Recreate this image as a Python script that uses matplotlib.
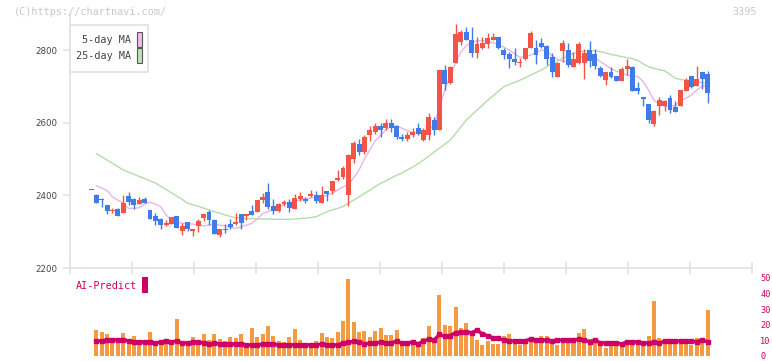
import numpy as np
import matplotlib.pyplot as plt

# 株価データ (ローソク足 116本, 最後が 11/14)
opens = [2414, 2401, 2391, 2373, 2357, 2362, 2352, 2398, 2391, 2377, 2390, 2360, 2343, 2334, 2318, 2321,
         2343, 2303, 2326, 2302, 2316, 2338, 2355, 2332, 2292, 2308, 2321, 2320, 2349, 2343, 2357, 2355,
         2387, 2409, 2371, 2357, 2377, 2382, 2363, 2391, 2390, 2398, 2400, 2380, 2412, 2413, 2442, 2450,
         2400, 2500, 2540, 2520, 2565, 2575, 2590, 2585, 2600, 2590, 2560, 2555, 2565, 2585, 2552, 2566,
         2607, 2580, 2745, 2708, 2765, 2823, 2850, 2827, 2791, 2805, 2818, 2829, 2837, 2800, 2789, 2774,
         2763, 2774, 2807, 2807, 2820, 2811, 2782, 2727, 2798, 2800, 2754, 2763, 2765, 2800, 2789, 2750,
         2717, 2739, 2728, 2715, 2747, 2754, 2695, 2670, 2651, 2596, 2647, 2647, 2667, 2644, 2646, 2687,
         2728, 2702, 2739, 2734]
highs = [2414, 2403, 2393, 2374, 2366, 2364, 2401, 2409, 2393, 2396, 2396, 2361, 2352, 2338, 2332, 2341,
         2344, 2323, 2327, 2307, 2335, 2350, 2360, 2334, 2308, 2321, 2334, 2352, 2350, 2350, 2373, 2388,
         2407, 2435, 2389, 2378, 2387, 2389, 2404, 2408, 2396, 2415, 2412, 2426, 2413, 2440, 2470, 2480,
         2515, 2550, 2555, 2565, 2590, 2600, 2600, 2610, 2610, 2595, 2570, 2575, 2585, 2600, 2585, 2626,
         2616, 2745, 2759, 2756, 2872, 2855, 2864, 2864, 2837, 2837, 2846, 2846, 2837, 2805, 2795, 2805,
         2777, 2807, 2853, 2829, 2832, 2813, 2791, 2766, 2829, 2820, 2795, 2823, 2802, 2826, 2802, 2756,
         2740, 2754, 2729, 2754, 2776, 2755, 2713, 2671, 2652, 2634, 2671, 2662, 2676, 2660, 2691, 2722,
         2729, 2756, 2740, 2742]
lows = [2414, 2378, 2369, 2349, 2352, 2343, 2351, 2374, 2362, 2376, 2378, 2335, 2318, 2308, 2317, 2320,
        2310, 2291, 2303, 2289, 2300, 2330, 2318, 2293, 2286, 2295, 2308, 2319, 2306, 2332, 2345, 2354,
        2378, 2362, 2349, 2354, 2371, 2355, 2362, 2385, 2378, 2395, 2378, 2379, 2385, 2404, 2440, 2445,
        2372, 2490, 2510, 2515, 2550, 2570, 2560, 2580, 2575, 2555, 2550, 2550, 2560, 2565, 2550, 2552,
        2566, 2579, 2690, 2706, 2764, 2814, 2828, 2782, 2777, 2804, 2807, 2828, 2802, 2774, 2750, 2759,
        2752, 2772, 2806, 2761, 2805, 2759, 2727, 2725, 2768, 2754, 2753, 2762, 2720, 2754, 2747, 2725,
        2704, 2722, 2714, 2714, 2731, 2687, 2679, 2646, 2600, 2591, 2621, 2633, 2627, 2629, 2645, 2686,
        2696, 2701, 2692, 2655]
closes = [2414, 2380, 2386, 2358, 2359, 2344, 2379, 2382, 2373, 2387, 2380, 2336, 2330, 2318, 2325, 2340,
          2311, 2316, 2308, 2306, 2329, 2349, 2332, 2294, 2307, 2304, 2314, 2327, 2323, 2349, 2346, 2387,
          2396, 2369, 2358, 2377, 2382, 2366, 2393, 2398, 2385, 2404, 2385, 2401, 2404, 2439, 2448, 2475,
          2510, 2545, 2520, 2560, 2580, 2590, 2580, 2600, 2585, 2560, 2555, 2565, 2575, 2570, 2580, 2616,
          2580, 2745, 2706, 2754, 2844, 2850, 2829, 2791, 2818, 2820, 2832, 2837, 2807, 2786, 2774, 2768,
          2768, 2805, 2848, 2786, 2809, 2774, 2740, 2765, 2820, 2759, 2774, 2816, 2791, 2771, 2756, 2728,
          2739, 2725, 2715, 2747, 2756, 2688, 2688, 2666, 2607, 2633, 2662, 2660, 2635, 2630, 2690, 2717,
          2697, 2720, 2720, 2681]

# 移動平均 (2本目から)
ma5 = [2426, 2420, 2413, 2396, 2387, 2378, 2364, 2364, 2366, 2376, 2381, 2376, 2369, 2346, 2332,
       2327, 2323, 2322, 2321, 2318, 2316, 2318, 2321, 2318, 2316, 2312, 2309, 2314, 2318, 2323,
       2335, 2350, 2355, 2362, 2368, 2374, 2380, 2384, 2388, 2390, 2393, 2395, 2396, 2400, 2406,
       2415, 2423, 2431, 2448, 2470, 2500, 2525, 2550, 2565, 2580, 2590, 2590, 2585, 2578, 2572,
       2575, 2578, 2580, 2595, 2640, 2690, 2730, 2765, 2795, 2812, 2822, 2825, 2826, 2824, 2820,
       2815, 2808, 2800, 2790, 2780, 2782, 2786, 2793, 2800, 2797, 2785, 2775, 2768, 2770, 2772,
       2778, 2785, 2786, 2778, 2768, 2759, 2748, 2742, 2737, 2731, 2729, 2727, 2713, 2690, 2662,
       2650, 2646, 2644, 2648, 2660, 2668, 2676, 2690, 2700, 2703]
ma25 = [2515, 2506, 2497, 2488, 2479, 2470, 2464, 2458, 2452, 2446, 2440, 2434, 2425, 2416, 2407,
        2398, 2389, 2379, 2374, 2370, 2365, 2360, 2355, 2351, 2346, 2342, 2338, 2337, 2336, 2336,
        2335, 2335, 2335, 2334, 2334, 2334, 2334, 2335, 2336, 2337, 2339, 2341, 2348, 2355, 2360,
        2364, 2369, 2378, 2387, 2396, 2405, 2414, 2424, 2433, 2440, 2448, 2455, 2462, 2470, 2478,
        2487, 2497, 2508, 2519, 2530, 2541, 2552, 2570, 2589, 2607, 2621, 2635, 2648, 2662, 2674,
        2687, 2699, 2705, 2711, 2717, 2724, 2731, 2738, 2745, 2754, 2763, 2770, 2777, 2784, 2791,
        2794, 2797, 2798, 2798, 2796, 2792, 2788, 2785, 2782, 2779, 2776, 2771, 2762, 2754, 2750,
        2746, 2743, 2733, 2722, 2719, 2717, 2715, 2713, 2710, 2708]

# 出来高 (2本目から) と AI-Predict
volume = [16.7, 15.4, 14.2, 10.4, 11.7, 14.8, 10.4, 13.1, 9, 9, 15.4, 8.3, 10.4, 10.4, 6.9,
          23.6, 8.3, 8.3, 12.3, 9, 14.2, 10.4, 14.2, 10.8, 9.8, 12.3, 11.7, 14.2, 6.9, 17.9,
          12.3, 14.2, 19.2, 12.9, 9.6, 9, 12.3, 17.3, 10.4, 6.9, 8.3, 9.6, 14.8, 12.3, 11.7,
          15.4, 22.3, 49.2, 21.7, 15.4, 16, 12.3, 16, 17.9, 13.5, 13.5, 16.7, 7.7, 7.7, 7.1,
          5.8, 11.7, 19.2, 9.6, 39.2, 19.8, 19.2, 31.7, 17.9, 21, 12.9, 10.4, 7.1, 9.6, 7.7,
          7.7, 12.9, 14.2, 9.6, 7.1, 9, 12.3, 10.8, 12.9, 12.9, 9.6, 7.1, 9.6, 9.6, 9,
          14.8, 17.3, 10.8, 10.4, 7.7, 5.4, 7.7, 7.1, 7.1, 9, 10.4, 7.7, 8.3, 12.9, 35.4,
          11.7, 10.4, 9, 9, 8.3, 9, 6.9, 11.7, 9.6, 29.2]
ai_predict = [9.6, 9.6, 10.4, 10.4, 10.4, 10.4, 9.6, 9, 9, 9, 9, 8.3, 9, 9.6, 9,
              9.6, 8.3, 8.3, 9, 9, 8.3, 7.7, 8.3, 7.7, 7.7, 7.7, 7.7, 7.7, 7.1, 7.1,
              7.1, 7.7, 7.7, 7.7, 7.1, 7.1, 7.1, 7.1, 7.1, 7.1, 7.1, 7.1, 7.7, 7.1, 7.1,
              7.1, 8.3, 8.7, 9.4, 9, 7.7, 8.3, 8.3, 9, 8.3, 8.3, 9.6, 8.3, 8.3, 9,
              7.7, 9.6, 10.8, 10.2, 13.8, 12.5, 13.1, 15, 15.4, 15.4, 15, 16.5, 14.2, 12.9, 11.7,
              11.3, 10.2, 9.6, 9.6, 9.6, 9.8, 10.8, 10.2, 10.2, 10.2, 9.6, 10.2, 10.2, 10.2, 10.2,
              10.8, 10.2, 9, 10.2, 8.3, 8.3, 8.3, 8.3, 7.7, 9, 9, 9, 8.3, 8.3, 9,
              8.3, 9.6, 9.6, 9.6, 9.6, 9.6, 9.6, 9, 10.4, 9]

date_labels = ['6/19', '7/3', '7/17', '8/1', '8/18', '9/1', '9/16', '10/1', '10/16', '10/30', '11/14']
date_index = [15, 25, 35, 45, 55, 65, 75, 85, 95, 105, 115]

UP = '#f25545'
DOWN = '#3f7bea'
AXC = '#e2e2e2'

plt.rcParams['font.family'] = ['DejaVu Sans Mono', 'DejaVu Sans']

fig = plt.figure(figsize=(7.72, 3.61), dpi=100)
ax = fig.add_axes([0.0907, 0.2576, 0.8834, 0.7044])
axv = fig.add_axes([0.0907, 0.0139, 0.8834, 0.2161])

o = np.array(opens, float)
h = np.array(highs, float)
l = np.array(lows, float)
c = np.array(closes, float)
x = np.arange(len(o))
col = [UP if ci >= oi else DOWN for oi, ci in zip(o, c)]

# ローソク足
ax.vlines(x, l, h, colors=col, linewidth=1.0, zorder=2)
body = np.maximum(np.abs(c - o), 2.8)
ax.bar(x, body, bottom=np.minimum(o, c), width=0.92, color=col, linewidth=0, zorder=3)

# 移動平均
xm = np.arange(1, len(o))
ax.plot(xm, ma5, color='#e8b4ea', linewidth=1.0, zorder=1)
ax.plot(xm, ma25, color='#b4dcaa', linewidth=1.0, zorder=1)

xlim = (-3.92, 123.3)
ax.set_xlim(xlim)
ax.set_ylim(2200, 2900)
for s in ['top', 'right']:
    ax.spines[s].set_visible(False)
for s in ['left', 'bottom']:
    ax.spines[s].set_color(AXC)
    ax.spines[s].set_linewidth(1.2)
ax.set_yticks([2200, 2400, 2600, 2800])
ax.tick_params(axis='y', colors=AXC, length=5, width=1.2, labelcolor='#444444', labelsize=6.2, pad=4)
for t in ax.get_yticklabels():
    t.set_family('DejaVu Sans')
ax.set_xticks(np.linspace(xlim[0], xlim[1], 12))
ax.set_xticklabels([])
ax.tick_params(axis='x', colors=AXC, direction='inout', length=9, width=1.2)

for i, lab in zip(date_index, date_labels):
    ax.text(i, -0.059, lab, transform=ax.get_xaxis_transform(), ha='center', va='center',
            fontsize=6.6, color='#555555')

# 凡例
fig.patches.append(plt.Rectangle((70 / 772, 1 - 72 / 361), 78 / 772, 47 / 361, transform=fig.transFigure,
                                 facecolor='white', edgecolor=AXC, linewidth=1.2, zorder=5))
fig.text(131 / 772, 1 - 40 / 361, '5-day MA', ha='right', va='center', fontsize=7.3, color='#444444', zorder=6)
fig.text(131 / 772, 1 - 56 / 361, '25-day MA', ha='right', va='center', fontsize=7.3, color='#444444', zorder=6)
fig.patches.append(plt.Rectangle((137 / 772, 1 - 47 / 361), 5 / 772, 15 / 361, transform=fig.transFigure,
                                 facecolor='#f0bcf0', edgecolor='#555555', linewidth=0.8, zorder=6))
fig.patches.append(plt.Rectangle((137 / 772, 1 - 63 / 361), 5 / 772, 15 / 361, transform=fig.transFigure,
                                 facecolor='#bfe2b4', edgecolor='#555555', linewidth=0.8, zorder=6))

fig.text(14 / 772, 1 - 12 / 361, '(C)https://chartnavi.com/', ha='left', va='center', fontsize=7.3, color='#c8c8c8')
fig.text(757 / 772, 1 - 12 / 361, '3395', ha='right', va='center', fontsize=7.3, color='#c8c8c8')

# 出来高 + AI-Predict
xv = np.arange(1, len(o))
axv.bar(xv, volume, width=0.75, color='#f39a42', linewidth=0)
axv.plot(xv, ai_predict, color='#cc0066', linewidth=2.4, marker='s', markersize=2.2)
axv.set_xlim(xlim)
axv.set_ylim(0, 50)
for s in axv.spines.values():
    s.set_visible(False)
axv.set_xticks([])
axv.yaxis.tick_right()
axv.set_yticks([0, 10, 20, 30, 40, 50])
axv.tick_params(axis='y', length=0, labelcolor='#cc0066', labelsize=6.2, pad=6)

fig.text(76 / 772, 1 - 286 / 361, 'AI-Predict', ha='left', va='center', fontsize=7.3, color='#cc0066')
fig.patches.append(plt.Rectangle((142 / 772, 1 - 293 / 361), 6 / 772, 16 / 361, transform=fig.transFigure,
                                 facecolor='#cc0066', edgecolor='none'))

fig.savefig('out.png', dpi=100)
